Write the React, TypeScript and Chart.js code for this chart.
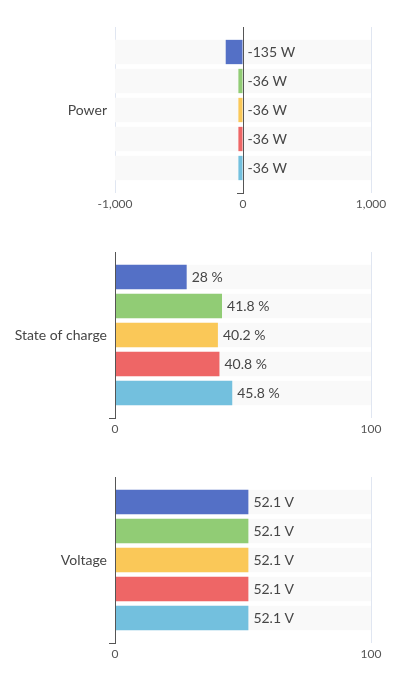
import React, { useEffect, useRef } from 'react';
import { Chart, registerables } from 'chart.js';

Chart.register(...registerables);

const seriesColors = ['#5470c6', '#91cc75', '#fac858', '#ee6666', '#73c0de'];
const stripeColor = '#f9f9f9';

const powerCategory = ['Power'];
const powerValues = [-135, -36, -36, -36, -36];
const powerUnit = 'W';
const powerRange = [-1000, 1000];
const powerStep = 1000;

const socCategory = ['State of charge'];
const socValues = [28, 41.8, 40.2, 40.8, 45.8];
const socUnit = '%';
const socRange = [0, 100];
const socStep = 100;

const voltageCategory = ['Voltage'];
const voltageValues = [52.1, 52.1, 52.1, 52.1, 52.1];
const voltageUnit = 'V';
const voltageRange = [0, 100];
const voltageStep = 100;

const FONT = 'Lato, "Open Sans", sans-serif';
const TEXT = '#464646';
const AXIS = '#555555';

const valueLabelPlugin = {
  id: 'valueLabels',
  afterDatasetsDraw(chart: any) {
    const ctx = chart.ctx;
    ctx.save();
    ctx.font = `14px ${FONT}`;
    ctx.fillStyle = TEXT;
    ctx.textBaseline = 'middle';
    ctx.textAlign = 'left';
    chart.data.datasets.forEach((ds: any, i: number) => {
      if (!ds.unit) return;
      const meta = chart.getDatasetMeta(i);
      meta.data.forEach((el: any, j: number) => {
        const v = ds.data[j];
        const x = Math.max(el.x, el.base) + 5;
        ctx.fillText(`${v} ${ds.unit}`, x, el.y);
      });
    });
    ctx.restore();
  },
};

type Props = {
  category: string[];
  values: number[];
  unit: string;
  range: number[];
  step: number;
  height: number;
  padBottom: number;
};

function BarPanel({ category, values, unit, range, step, height, padBottom }: Props) {
  const ref = useRef<HTMLCanvasElement | null>(null);
  useEffect(() => {
    if (!ref.current) return;
    const colored = values.map((v, i) => ({
      label: `s${i}`,
      unit,
      data: [v],
      backgroundColor: seriesColors[i],
      borderWidth: 0,
      stack: `s${i}`,
      order: 0,
      categoryPercentage: 0.8735,
      barPercentage: 0.838,
    }));
    const stripes = values.map((_, i) => ({
      label: `bg${i}`,
      data: [[range[0], range[1]]],
      backgroundColor: stripeColor,
      borderWidth: 0,
      stack: `s${i}`,
      order: 1,
      categoryPercentage: 0.8735,
      barPercentage: 0.838,
    }));
    const chart = new Chart(ref.current, {
      type: 'bar',
      data: { labels: category, datasets: [...colored, ...stripes] as any },
      plugins: [valueLabelPlugin as any],
      options: {
        indexAxis: 'y',
        animation: false,
        responsive: true,
        maintainAspectRatio: false,
        layout: { padding: { top: 19, right: 17, bottom: padBottom, left: 0 } },
        plugins: { legend: { display: false }, tooltip: { enabled: false } },
        scales: {
          x: {
            type: 'linear',
            stacked: false,
            min: range[0],
            max: range[1],
            afterFit: (scale: any) => {
              scale.height = 20;
              scale.paddingLeft = 0;
              scale.paddingRight = 0;
            },
            ticks: {
              stepSize: step,
              padding: 4,
              color: AXIS,
              font: { family: FONT, size: 12 },
              callback: (v: any) => Number(v).toLocaleString('en-US'),
            },
            grid: {
              drawTicks: false,
              color: (c: any) => (c.tick && c.tick.value === 0 ? 'transparent' : '#e0e6f1'),
            },
            border: { display: false },
          },
          y: {
            type: 'category',
            afterFit: (scale: any) => { scale.width = 107; },
            ticks: { padding: 8, color: TEXT, font: { family: FONT, size: 14 } },
            grid: { display: false, drawTicks: false },
            border: { display: false },
          },
          y2: {
            type: 'category',
            axis: 'y',
            position: { x: 0 },
            offset: true,
            ticks: { display: false },
            grid: {
              offset: true,
              drawOnChartArea: false,
              drawTicks: true,
              tickLength: 6,
              color: (c: any) => (c.index === 0 ? 'transparent' : AXIS),
            },
            border: { display: true, color: AXIS, z: 1 },
          },
        } as any,
      },
    });
    return () => chart.destroy();
  }, []);
  return (
    <div style={{ position: 'relative', height }}>
      <canvas ref={ref} />
    </div>
  );
}

export default function App() {
  return (
    <div>
      <BarPanel category={powerCategory} values={powerValues} unit={powerUnit} range={powerRange} step={powerStep} height={225} padBottom={20} />
      <BarPanel category={socCategory} values={socValues} unit={socUnit} range={socRange} step={socStep} height={225} padBottom={20} />
      <BarPanel category={voltageCategory} values={voltageValues} unit={voltageUnit} range={voltageRange} step={voltageStep} height={205} padBottom={0} />
    </div>
  );
}
